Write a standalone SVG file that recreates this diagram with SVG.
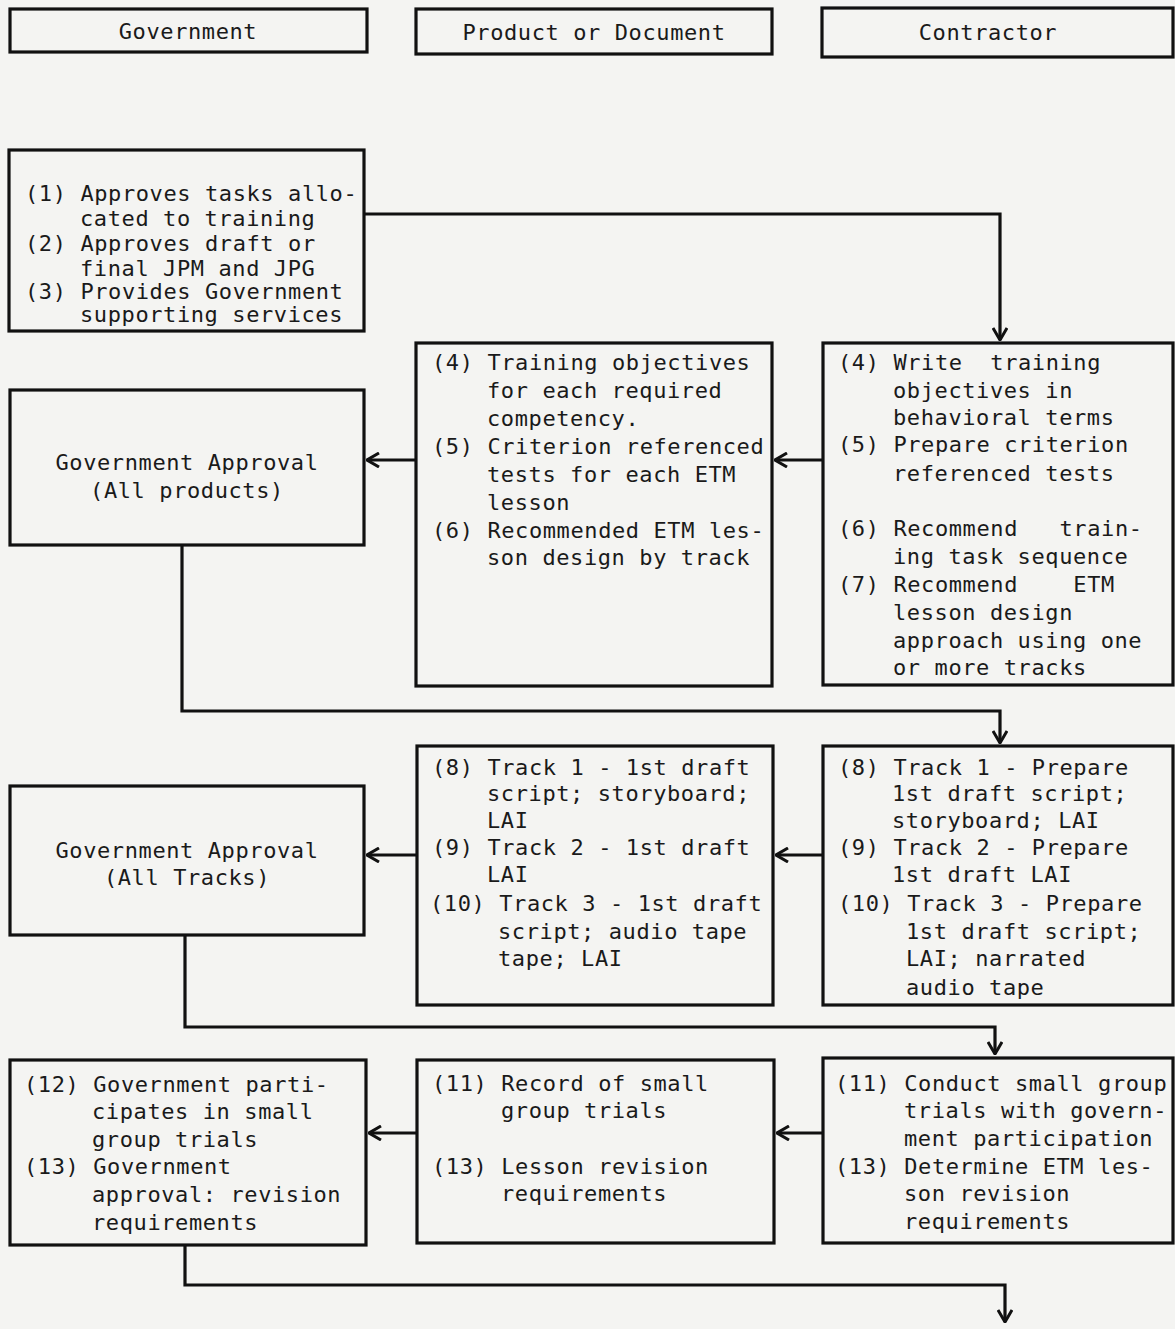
<svg xmlns="http://www.w3.org/2000/svg" width="1175" height="1329" viewBox="0 0 1175 1329">
<style>
.bg{fill:#f4f4f2}
.box{fill:none;stroke:#111;stroke-width:3.2}
.con{fill:none;stroke:#111;stroke-width:3.2}
text{font-family:"DejaVu Sans Mono","Liberation Mono",monospace;font-size:22px;fill:#1a1a1a;letter-spacing:0.6px}
.c{text-anchor:middle}
</style>
<defs>
<marker id="ah" viewBox="0 0 14 16" refX="13" refY="8" markerWidth="14" markerHeight="16" markerUnits="userSpaceOnUse" orient="auto">
<path d="M1,1 L13,8 L1,15" fill="none" stroke="#111" stroke-width="3"/>
</marker>
</defs>
<rect class="bg" x="0" y="0" width="1175" height="1329"/>

<g id="hdr-gov"><rect class="box" x="10" y="9" width="357" height="43"/><text class="c" x="188" y="39">Government</text></g>
<g id="hdr-prod"><rect class="box" x="416" y="9" width="356" height="45"/><text class="c" x="594" y="40">Product or Document</text></g>
<g id="hdr-con"><rect class="box" x="822" y="8" width="351" height="49"/><text class="c" x="988" y="40">Contractor</text></g>

<g id="gov1"><rect class="box" x="9" y="150" width="355" height="181"/>
<text x="25" y="201">(1) Approves tasks allo-</text>
<text x="80" y="226">cated to training</text>
<text x="25" y="251">(2) Approves draft or</text>
<text x="80" y="276">final JPM and JPG</text>
<text x="25" y="299">(3) Provides Government</text>
<text x="80" y="322">supporting services</text>
</g>

<g id="gov2"><rect class="box" x="10" y="390" width="354" height="155"/>
<text class="c" x="187" y="470">Government Approval</text>
<text class="c" x="187" y="498">(All products)</text>
</g>
<g id="prod2"><rect class="box" x="416" y="343" width="356" height="343"/>
<text x="432" y="370">(4) Training objectives</text>
<text x="487" y="398">for each required</text>
<text x="487" y="426">competency.</text>
<text x="432" y="454">(5) Criterion referenced</text>
<text x="487" y="482">tests for each ETM</text>
<text x="487" y="510">lesson</text>
<text x="432" y="538">(6) Recommended ETM les-</text>
<text x="487" y="565">son design by track</text>
</g>
<g id="con2"><rect class="box" x="823" y="343" width="350" height="342"/>
<text x="838" y="370" xml:space="preserve">(4) Write  training</text>
<text x="893" y="398">objectives in</text>
<text x="893" y="425">behavioral terms</text>
<text x="838" y="452">(5) Prepare criterion</text>
<text x="893" y="481">referenced tests</text>
<text x="838" y="536" xml:space="preserve">(6) Recommend   train-</text>
<text x="893" y="564">ing task sequence</text>
<text x="838" y="592" xml:space="preserve">(7) Recommend    ETM</text>
<text x="893" y="620">lesson design</text>
<text x="893" y="648">approach using one</text>
<text x="893" y="675">or more tracks</text>
</g>

<g id="gov3"><rect class="box" x="10" y="786" width="354" height="149"/>
<text class="c" x="187" y="858">Government Approval</text>
<text class="c" x="187" y="885">(All Tracks)</text>
</g>
<g id="prod3"><rect class="box" x="417" y="746" width="356" height="259"/>
<text x="432" y="775">(8) Track 1 - 1st draft</text>
<text x="487" y="801">script; storyboard;</text>
<text x="487" y="828">LAI</text>
<text x="432" y="855">(9) Track 2 - 1st draft</text>
<text x="487" y="882">LAI</text>
<text x="430" y="911">(10) Track 3 - 1st draft</text>
<text x="498" y="939">script; audio tape</text>
<text x="498" y="966">tape; LAI</text>
</g>
<g id="con3"><rect class="box" x="823" y="746" width="350" height="259"/>
<text x="838" y="775">(8) Track 1 - Prepare</text>
<text x="892" y="801">1st draft script;</text>
<text x="892" y="828">storyboard; LAI</text>
<text x="838" y="855">(9) Track 2 - Prepare</text>
<text x="892" y="882">1st draft LAI</text>
<text x="838" y="911">(10) Track 3 - Prepare</text>
<text x="906" y="939">1st draft script;</text>
<text x="906" y="966">LAI; narrated</text>
<text x="906" y="995">audio tape</text>
</g>

<g id="gov4"><rect class="box" x="10" y="1060" width="356" height="185"/>
<text x="24" y="1092">(12) Government parti-</text>
<text x="92" y="1119">cipates in small</text>
<text x="92" y="1147">group trials</text>
<text x="24" y="1174">(13) Government</text>
<text x="92" y="1202">approval: revision</text>
<text x="92" y="1230">requirements</text>
</g>
<g id="prod4"><rect class="box" x="417" y="1060" width="357" height="183"/>
<text x="432" y="1091">(11) Record of small</text>
<text x="501" y="1118">group trials</text>
<text x="432" y="1174">(13) Lesson revision</text>
<text x="501" y="1201">requirements</text>
</g>
<g id="con4"><rect class="box" x="823" y="1058" width="350" height="185"/>
<text x="835" y="1091">(11) Conduct small group</text>
<text x="904" y="1118">trials with govern-</text>
<text x="904" y="1146">ment participation</text>
<text x="835" y="1174">(13) Determine ETM les-</text>
<text x="904" y="1201">son revision</text>
<text x="904" y="1229">requirements</text>
</g>

<g id="connectors">
<path class="con" d="M364,214 H1000 V340" marker-end="url(#ah)"/>
<path class="con" d="M823,460 H775" marker-end="url(#ah)"/>
<path class="con" d="M416,460 H367" marker-end="url(#ah)"/>
<path class="con" d="M182,545 V711 H1000 V743" marker-end="url(#ah)"/>
<path class="con" d="M823,855 H776" marker-end="url(#ah)"/>
<path class="con" d="M417,855 H367" marker-end="url(#ah)"/>
<path class="con" d="M185,935 V1027 H995 V1054" marker-end="url(#ah)"/>
<path class="con" d="M823,1133 H777" marker-end="url(#ah)"/>
<path class="con" d="M417,1133 H369" marker-end="url(#ah)"/>
<path class="con" d="M185,1245 V1285 H1005 V1322" marker-end="url(#ah)"/>
</g>
</svg>
